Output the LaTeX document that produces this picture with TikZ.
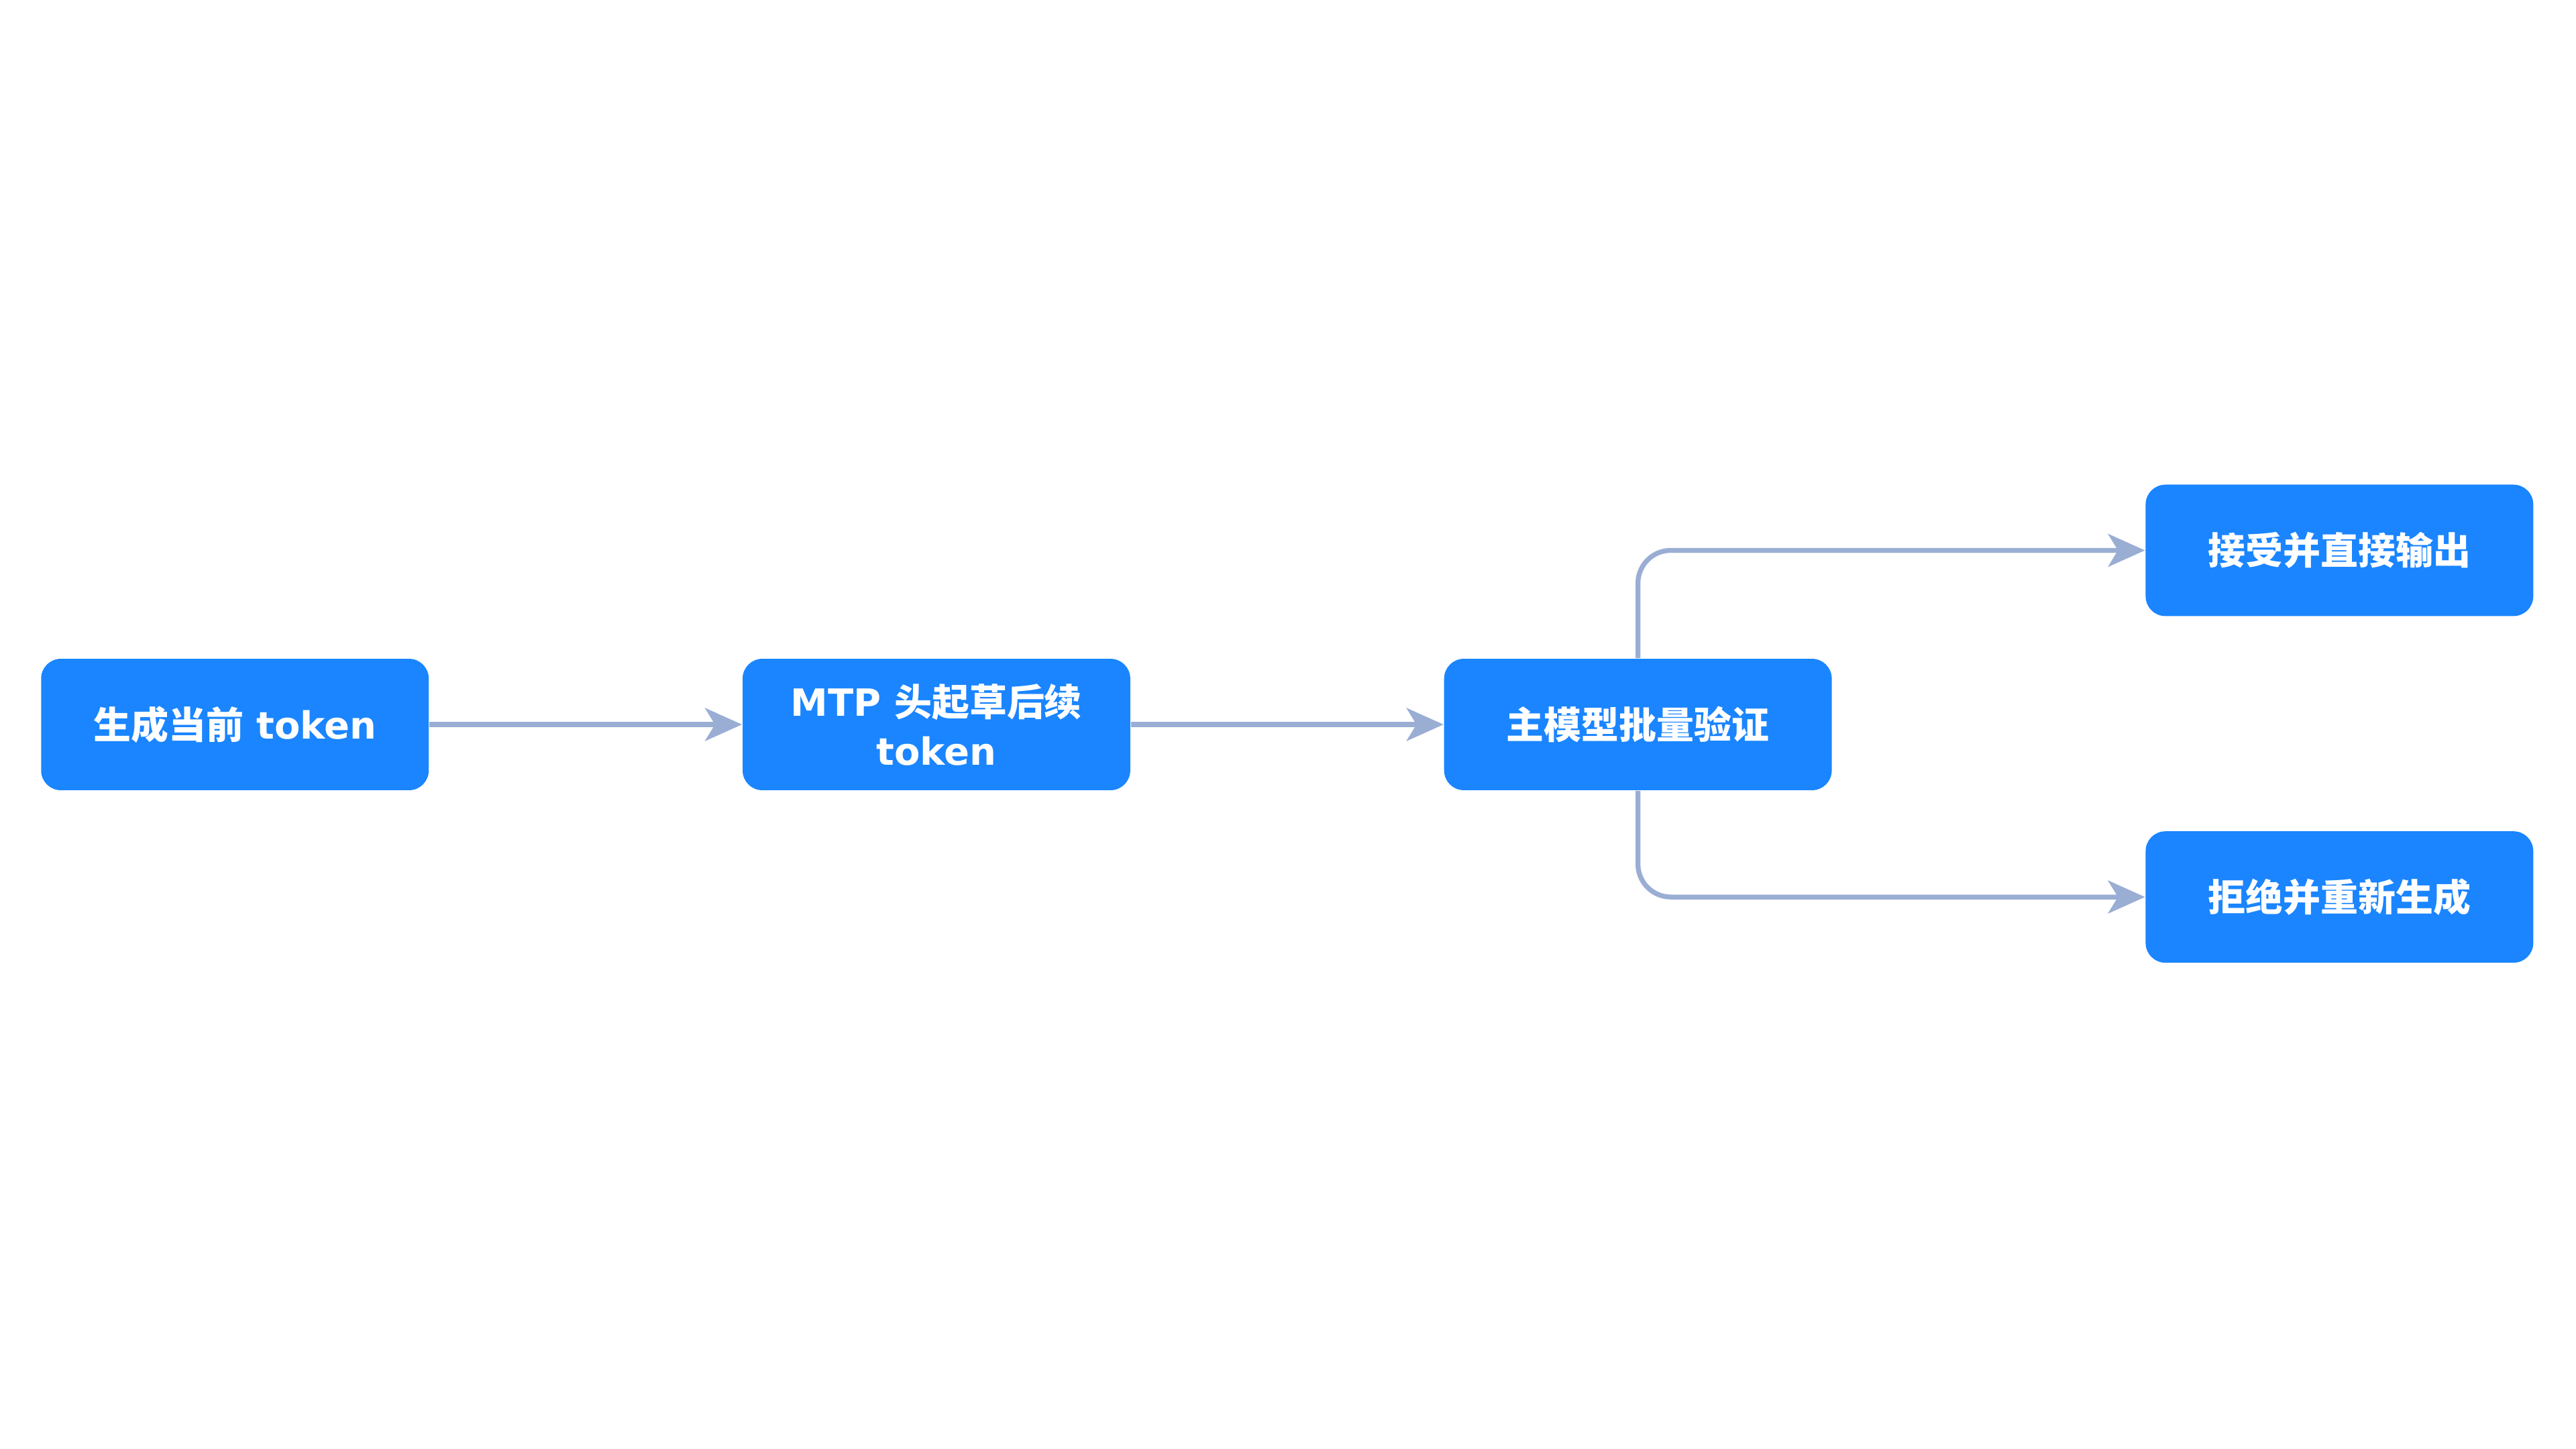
\documentclass[tikz,border=0pt]{standalone}
\usepackage{fontspec}
\setmainfont{DejaVu Sans}
\newfontfamily\cjk{Noto Sans CJK SC}
\usetikzlibrary{arrows.meta}
\definecolor{boxblue}{HTML}{1A85FF}
\definecolor{linegray}{HTML}{9AAED4}
\begin{document}
\begin{tikzpicture}[x=0.02cm,y=-0.02cm,
  box/.style={fill=boxblue,text=white,rounded corners=0.24cm,minimum width=4.72cm,minimum height=1.6cm,align=center,font=\fontsize{13}{17}\selectfont\bfseries,inner sep=2pt},
  conn/.style={draw=linegray,line width=1.7pt,-{Stealth[length=0.45cm,width=0.4cm,inset=0.12cm]},rounded corners=0.4cm}]
\useasboundingbox (0,0) rectangle (1568,882);
\node[box] (a) at (143,441) {{\cjk 生成当前} token};
\node[box] (b) at (570,441) {MTP {\cjk 头起草后续}\\token};
\node[box] (c) at (997,441) {{\cjk 主模型批量验证}};
\node[box] (d) at (1424,335) {{\cjk 接受并直接输出}};
\node[box] (e) at (1424,546) {{\cjk 拒绝并重新生成}};
\draw[conn] (a) -- (b);
\draw[conn] (b) -- (c);
\draw[conn] (c.north) |- (d.west);
\draw[conn] (c.south) |- (e.west);
\end{tikzpicture}
\end{document}
